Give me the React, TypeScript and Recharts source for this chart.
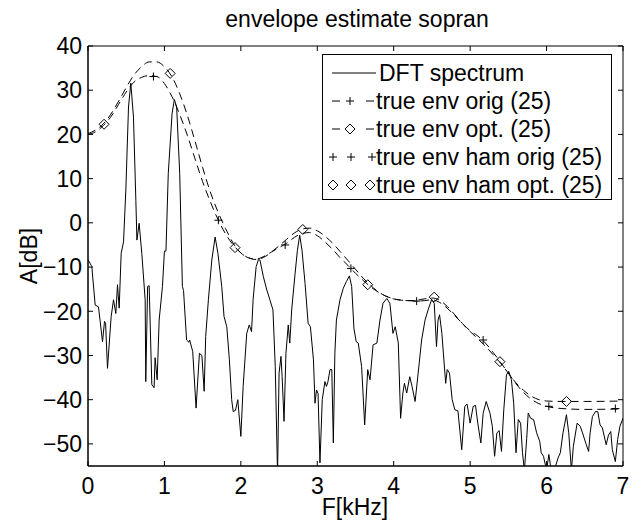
import React from "react";
import {
  ComposedChart,
  Line,
  Scatter,
  XAxis,
  YAxis,
  Legend,
  Label,
  ReferenceArea,
} from "recharts";

// DFT spectrum (kHz, dB)
const dftFreq = [
  0.0, 0.05, 0.094, 0.137, 0.19, 0.216, 0.23, 0.255, 0.303, 0.334, 0.364, 0.386, 0.408, 0.434, 0.465, 0.495,
  0.53, 0.56, 0.595, 0.626, 0.64, 0.669, 0.704, 0.748, 0.756, 0.78, 0.8, 0.835, 0.865, 0.878, 0.905, 0.931,
  0.974, 1.0, 1.02, 1.05, 1.1, 1.13, 1.16, 1.2, 1.235, 1.25, 1.29, 1.32, 1.33, 1.37, 1.414, 1.458,
  1.49, 1.52, 1.54, 1.575, 1.62, 1.663, 1.7, 1.75, 1.78, 1.816, 1.85, 1.88, 1.9, 1.93, 1.96, 2.0,
  2.03, 2.077, 2.11, 2.14, 2.16, 2.2, 2.23, 2.25, 2.295, 2.34, 2.38, 2.42, 2.45, 2.48, 2.5, 2.525,
  2.54, 2.565, 2.59, 2.62, 2.64, 2.665, 2.71, 2.74, 2.77, 2.8, 2.84, 2.88, 2.91, 2.95, 2.97, 2.99,
  3.01, 3.035, 3.065, 3.1, 3.12, 3.14, 3.166, 3.19, 3.21, 3.23, 3.25, 3.297, 3.34, 3.38, 3.42, 3.45,
  3.48, 3.51, 3.536, 3.58, 3.62, 3.66, 3.69, 3.73, 3.78, 3.82, 3.86, 3.91, 3.95, 3.99, 4.02, 4.06,
  4.09, 4.12, 4.14, 4.17, 4.21, 4.24, 4.28, 4.32, 4.365, 4.41, 4.45, 4.495, 4.53, 4.56, 4.58, 4.6,
  4.63, 4.68, 4.7, 4.73, 4.765, 4.8, 4.84, 4.89, 4.93, 4.96, 5.0, 5.04, 5.07, 5.1, 5.14, 5.17,
  5.21, 5.26, 5.29, 5.32, 5.35, 5.38, 5.41, 5.44, 5.475, 5.505, 5.54, 5.57, 5.6, 5.63, 5.66, 5.685,
  5.71, 5.74, 5.76, 5.79, 5.83, 5.87, 5.91, 5.93, 5.96, 6.0, 6.03, 6.06, 6.11, 6.15, 6.18, 6.215,
  6.26, 6.29, 6.325, 6.35, 6.4, 6.44, 6.47, 6.52, 6.55, 6.57, 6.6, 6.64, 6.67, 6.7, 6.73, 6.78,
  6.81, 6.84, 6.86, 6.9, 6.93, 6.96, 7.0,
];
const dftAmp = [
  -8.3, -9.9, -18.6, -19, -26.9, -22.3, -22.7, -32.9, -21.2, -17.4, -20.5, -14, -19.3, -6.9, -4.3, 7.4,
  26.2, 31.6, 23.9, 5.1, -3.9, -0.1, -6.9, -17.4, -35.9, -14.4, -14.2, -36.6, -37.3, -30.5, -35.5, -22,
  -14.4, -6.4, -6.4, 11.1, 24.7, 27.9, 26.2, 11.2, -14.4, -15.3, -26.5, -27, -26.5, -29.1, -41.9, -29.5,
  -30, -38.1, -25.7, -17.4, -8.4, -3.2, -6.9, -14.4, -21.2, -23.5, -31, -40, -42.7, -42.4, -40, -48.3,
  -37, -25, -23.1, -24.6, -17.4, -9.9, -8.3, -8.4, -12.2, -15.2, -17.4, -19.7, -32.5, -57, -34, -30.2,
  -34.8, -44.9, -29.5, -23.1, -27.2, -19.7, -11.4, -6.2, -2.8, -6.2, -13.7, -22.7, -23.5, -31, -40.8, -37.8,
  -38.6, -54.3, -40, -35.9, -37, -35.9, -33.2, -33.2, -49.8, -29.5, -22, -17.4, -14.8, -13.3, -12, -14.4,
  -24, -26.9, -27.2, -32.5, -45.7, -33.2, -35.5, -27.6, -27.2, -22, -18.2, -17.1, -18.2, -25, -23.5, -27.2,
  -44.2, -38.5, -36.3, -38.5, -34.8, -37, -40.4, -34, -26.5, -22, -19.7, -17.4, -18.2, -28, -22, -20.8,
  -25, -36.3, -33.2, -34, -40, -42.3, -42.5, -51.3, -41.5, -41, -45.3, -41.5, -41.3, -45.3, -49.8, -43.1,
  -40.4, -43.1, -46, -52.8, -47.5, -47, -51.7, -42.3, -34.4, -33.6, -35.5, -40.8, -52, -44.5, -45.3, -52,
  -56, -48.8, -43, -44.2, -44.5, -47.5, -49.4, -52, -52.8, -56, -52.4, -56, -55.5, -53.2, -52, -47.5,
  -43.4, -47.5, -56, -50.6, -45.3, -46, -47.5, -50.2, -51.7, -47.5, -43.8, -42.7, -42.7, -45.7, -46.4, -50.2,
  -48, -47.2, -51.3, -54, -49, -46, -44.2,
];

// true envelopes (kHz, dB)
const envFreq = [
  0, 0.1, 0.2, 0.3, 0.4, 0.5, 0.6, 0.7, 0.8, 0.9, 1.0, 1.1, 1.2, 1.3, 1.4, 1.5,
  1.6, 1.7, 1.8, 1.9, 2.0, 2.1, 2.2, 2.3, 2.4, 2.5, 2.6, 2.7, 2.8, 2.9, 3.0, 3.1,
  3.2, 3.3, 3.4, 3.5, 3.6, 3.7, 3.8, 3.9, 4.0, 4.1, 4.2, 4.3, 4.4, 4.5, 4.6, 4.7,
  4.8, 4.9, 5.0, 5.1, 5.2, 5.3, 5.4, 5.5, 5.6, 5.7, 5.8, 5.9, 6.0, 6.2, 6.5, 7.0,
];
const envOrig = [
  20, 20.6, 22, 24, 26.8, 29.6, 31.8, 32.9, 33.3, 33.1, 31.5, 28.5, 24.5, 19.8, 14.5, 9.3,
  4.8, 0.8, -2.5, -5, -6.8, -7.9, -8.2, -7.6, -6.6, -5.6, -4.6, -3.3, -2.4, -2.2, -2.9, -4.3,
  -6.0, -7.9, -9.6, -11.4, -13, -14.5, -15.7, -16.6, -17.2, -17.5, -17.6, -17.7, -17.6, -17.4, -18, -19.3,
  -21, -22.8, -24.4, -25.6, -27.2, -29.3, -31.6, -34, -36.4, -38.4, -39.9, -40.9, -41.5, -42, -42.2, -42.1,
];
const envOpt = [
  20.2, 21, 22.4, 24.6, 27.5, 30.6, 33.4, 35.3, 36.4, 36.4, 35.3, 33, 29.2, 24.3, 18.5, 12.5,
  7, 2.5, -1.3, -4.6, -6.8, -7.9, -8.3, -7.8, -6.6, -5.2, -3.7, -2.3, -1.4, -1.2, -1.8, -3,
  -4.6, -6.5, -8.5, -10.5, -12.5, -14.2, -15.6, -16.6, -17.2, -17.5, -17.6, -17.5, -17.2, -17, -17.5, -18.9,
  -20.8, -22.8, -24.6, -26.2, -27.9, -29.8, -31.8, -34, -36.2, -37.9, -39.2, -40, -40.3, -40.4, -40.4, -40.3,
];

// hamming-window envelopes, plotted as markers only
const hamOrigFreq = [0.856, 1.706, 2.58, 3.44, 4.3, 5.17, 6.03, 6.9];
const hamOrigAmp = [33.1, 0.6, -5, -10.3, -17.7, -26.5, -41.5, -42];
const hamOptFreq = [0.21, 1.075, 1.924, 2.81, 3.66, 4.53, 5.39, 6.26];
const hamOptAmp = [22.3, 33.8, -5.6, -1.5, -14, -16.8, -31.4, -40.4];

const xTicks = [0, 1, 2, 3, 4, 5, 6, 7];
const yTicks = [40, 30, 20, 10, 0, -10, -20, -30, -40, -50];
const legendLabels = [
  "DFT spectrum",
  "true env orig (25)",
  "true env opt. (25)",
  "true env ham orig (25)",
  "true env ham opt. (25)",
];

const zip = (xs: number[], ys: number[]) => xs.map((x, i) => ({ x, y: ys[i] }));
const dftData = zip(dftFreq, dftAmp);
const origData = zip(envFreq, envOrig);
const optData = zip(envFreq, envOpt);
const hamOrigData = zip(hamOrigFreq, hamOrigAmp);
const hamOptData = zip(hamOptFreq, hamOptAmp);

const FONT = 23;
const TOP = 46;
const BOTTOM = 466;
const LEFT = 88;
const RIGHT = 623;

const plusPath = (x: number, y: number) => `M${x - 4},${y}H${x + 4}M${x},${y - 4}V${y + 4}`;
const diamondPath = (x: number, y: number) =>
  `M${x},${y - 5}L${x + 5},${y}L${x},${y + 5}L${x - 5},${y}Z`;

const PlusShape = (p: any) => <path d={plusPath(p.cx, p.cy)} stroke="#000" strokeWidth={1} fill="none" />;
const DiamondShape = (p: any) => (
  <path d={diamondPath(p.cx, p.cy)} stroke="#000" strokeWidth={1} fill="none" />
);

const XTick = (p: any) => (
  <g>
    <line x1={p.x} x2={p.x} y1={BOTTOM} y2={BOTTOM - 5} stroke="#000" />
    <line x1={p.x} x2={p.x} y1={TOP} y2={TOP + 5} stroke="#000" />
    <text x={p.x} y={494} textAnchor="middle" fontSize={FONT} fill="#000">
      {p.payload.value}
    </text>
  </g>
);

const YTick = (p: any) => {
  const v = p.payload.value;
  return (
    <g>
      <line x1={LEFT} x2={LEFT + 5} y1={p.y} y2={p.y} stroke="#000" />
      <line x1={RIGHT} x2={RIGHT - 5} y1={p.y} y2={p.y} stroke="#000" />
      <text x={82} y={p.y} dy="0.36em" textAnchor="end" fontSize={FONT} fill="#000">
        {v < 0 ? "\u2212" + Math.abs(v) : String(v)}
      </text>
    </g>
  );
};

const LegendBox = () => {
  const rows = [19, 47, 75, 103, 131];
  return (
    <svg width={290} height={146} style={{ display: "block", fontFamily: "'Liberation Sans', Arial, sans-serif" }}>
      <rect x={0.5} y={0.5} width={289} height={145} fill="#fff" stroke="#000" />
      <line x1={10} x2={54} y1={rows[0]} y2={rows[0]} stroke="#000" />
      <line x1={10} x2={18} y1={rows[1]} y2={rows[1]} stroke="#000" />
      <line x1={44} x2={52} y1={rows[1]} y2={rows[1]} stroke="#000" />
      <path d={plusPath(28, rows[1])} stroke="#000" fill="none" />
      <line x1={10} x2={18} y1={rows[2]} y2={rows[2]} stroke="#000" />
      <line x1={44} x2={52} y1={rows[2]} y2={rows[2]} stroke="#000" />
      <path d={diamondPath(28, rows[2])} stroke="#000" fill="none" />
      {[11, 29, 50].map((x) => (
        <path key={x} d={plusPath(x, rows[3])} stroke="#000" fill="none" />
      ))}
      {[11, 29, 48].map((x) => (
        <path key={x} d={diamondPath(x, rows[4])} stroke="#000" fill="none" />
      ))}
      {legendLabels.map((t, i) => (
        <text key={t} x={i === 0 ? 57 : 54} y={rows[i]} dy="0.36em" fontSize={FONT} fill="#000">
          {t}
        </text>
      ))}
    </svg>
  );
};

export default function App() {
  return (
    <div
      style={{
        position: "absolute",
        left: 0,
        top: 0,
        width: 638,
        height: 522,
        background: "#fff",
        fontFamily: "'Liberation Sans', Arial, sans-serif",
      }}
    >
      <ComposedChart width={638} height={522} margin={{ top: TOP, right: 15, bottom: 0, left: 0 }}>
        <XAxis
          type="number"
          dataKey="x"
          domain={[0, 7]}
          ticks={xTicks}
          height={56}
          allowDataOverflow
          tickLine={false}
          axisLine={{ stroke: "#000" }}
          tick={XTick}
        >
          <Label
            content={() => (
              <g>
                <text x={357} y={27} textAnchor="middle" fontSize={FONT} fill="#000">
                  envelope estimate sopran
                </text>
                <text x={355} y={515} textAnchor="middle" fontSize={FONT} fill="#000">
                  F[kHz]
                </text>
              </g>
            )}
          />
        </XAxis>
        <YAxis
          type="number"
          dataKey="y"
          domain={[-55, 40]}
          ticks={yTicks}
          width={88}
          allowDataOverflow
          tickLine={false}
          axisLine={{ stroke: "#000" }}
          tick={YTick}
        >
          <Label
            content={() => (
              <text
                x={37}
                y={256}
                transform="rotate(-90 37 256)"
                textAnchor="middle"
                fontSize={FONT}
                fill="#000"
              >
                A[dB]
              </text>
            )}
          />
        </YAxis>
        <ReferenceArea x1={0} x2={7} y1={-55} y2={40} fill="none" stroke="#000" ifOverflow="visible" />
        <Line
          data={dftData}
          dataKey="y"
          type="linear"
          stroke="#000"
          strokeWidth={1}
          dot={false}
          activeDot={false}
          isAnimationActive={false}
        />
        <Line
          data={origData}
          dataKey="y"
          type="monotone"
          stroke="#000"
          strokeWidth={1}
          strokeDasharray="8 5"
          dot={false}
          activeDot={false}
          isAnimationActive={false}
        />
        <Line
          data={optData}
          dataKey="y"
          type="monotone"
          stroke="#000"
          strokeWidth={1}
          strokeDasharray="8 5"
          dot={false}
          activeDot={false}
          isAnimationActive={false}
        />
        <Scatter data={hamOrigData} dataKey="y" shape={PlusShape} isAnimationActive={false} />
        <Scatter data={hamOptData} dataKey="y" shape={DiamondShape} isAnimationActive={false} />
        <Legend
          layout="vertical"
          align="center"
          verticalAlign="middle"
          wrapperStyle={{ left: 322, top: 54, width: 290, height: 146 }}
          content={LegendBox}
        />
      </ComposedChart>
    </div>
  );
}
